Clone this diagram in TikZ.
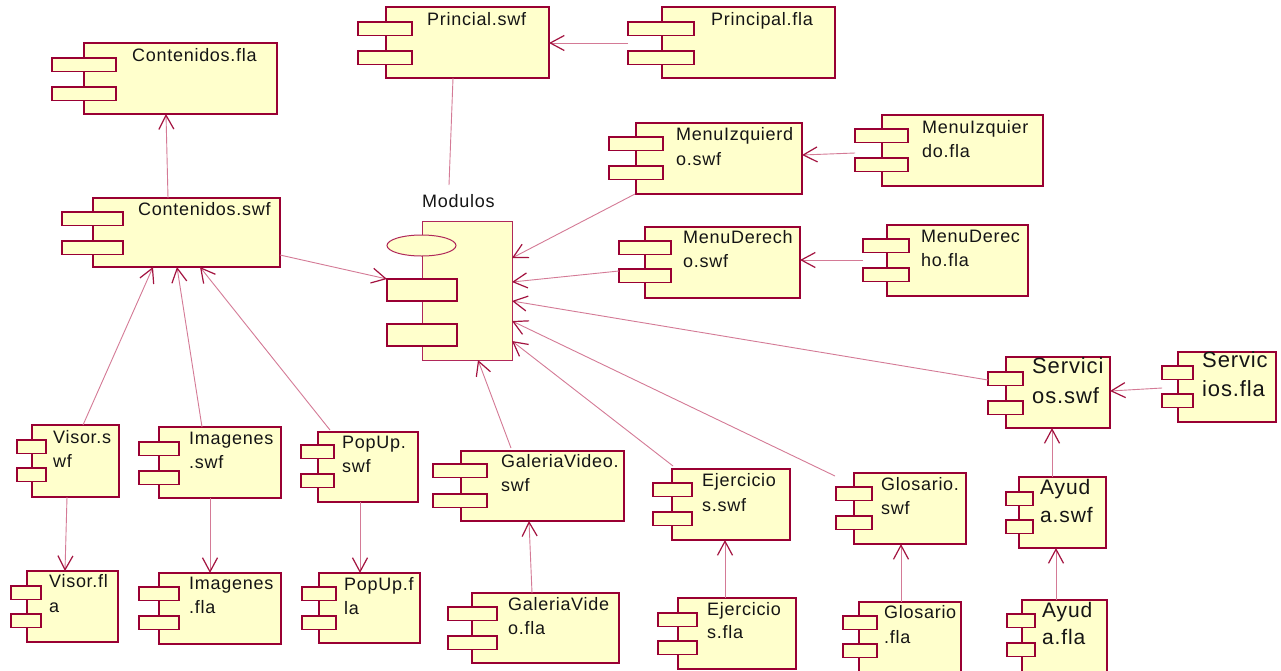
\documentclass[tikz,border=0pt]{standalone}
\usepackage{fontspec}
\setmainfont{Liberation Sans}
\newfontfamily\lblfont[LetterSpace=4]{Liberation Sans}
\usetikzlibrary{arrows.meta,shapes.geometric}
\definecolor{compfill}{HTML}{FFFFCC}
\definecolor{compedge}{HTML}{990033}
\definecolor{modedge}{HTML}{B0285A}
\definecolor{deplink}{HTML}{D47A96}
\definecolor{deptip}{HTML}{A3123F}
\definecolor{ink}{HTML}{151515}
\tikzset{
  compbody/.style={draw=compedge, fill=compfill, line width=1.4pt, inner sep=0pt, outer sep=0pt, anchor=north west},
  lbl/.style={inner sep=0pt, anchor=base west, text=ink, font=\lblfont\fontsize{18}{22}\selectfont},
  biglbl/.style={lbl, font=\lblfont\fontsize{22}{26}\selectfont},
  midlbl/.style={lbl, font=\lblfont\fontsize{21}{25}\selectfont},
  dep/.style={draw=deplink, line width=0.9pt, -{Straight Barb[length=14pt, width=15pt, color=deptip, line width=1.2pt]}},
  plainlink/.style={draw=deplink, line width=0.9pt},
}
% component icon: name, body x1 y1 x2 y2, port x1 x2, port tops y1 y2
\newcommand\umlcomp[9]{%
  \node[compbody, minimum width={(#4)-(#2)}, minimum height={(#5)-(#3)}] (#1) at (#2,#3) {};
  \node[compbody, minimum width={(#7)-(#6)}, minimum height=13.5] (#1-a) at (#6,#8) {};
  \node[compbody, minimum width={(#7)-(#6)}, minimum height=13.5] (#1-b) at (#6,#9) {};
}
\begin{document}
\begin{tikzpicture}[x=1pt, y=-1pt]
\useasboundingbox (0,0) rectangle (1281,670);
\clip (0,0) rectangle (1281,670);
\fill[white] (0,0) rectangle (1281,670);

% top row
\umlcomp{prinswf}{386}{7}{549}{78}{358}{412}{22}{51}
\node[lbl] (prinswf-l1) at (427,25) {Princial.swf};
\umlcomp{prinfla}{662}{7}{835}{78}{628}{694}{22}{51}
\node[lbl] (prinfla-l1) at (711,25) {Principal.fla};
\umlcomp{contfla}{84}{43}{277}{114}{52}{116}{58}{87}
\node[lbl] (contfla-l1) at (132,61) {Contenidos.fla};
\umlcomp{contswf}{93}{198}{280}{267}{62}{123}{212}{241}
\node[lbl] (contswf-l1) at (138,215) {Contenidos.swf};

% central package of modules
\node[compbody, draw=modedge, line width=1pt, minimum width=90, minimum height=139] (mod) at (422,221) {};
\node[compbody, draw=modedge, line width=1pt, ellipse, anchor=center, minimum width=69, minimum height=21] (mod-e) at (421.5,245.5) {};
\node[compbody, line width=1.1pt, minimum width=70, minimum height=22] (mod-a) at (387,279) {};
\node[compbody, line width=1.1pt, minimum width=70, minimum height=22] (mod-b) at (387,324) {};
\node[lbl] (mod-l) at (422,207) {Modulos};

% menus
\umlcomp{mizqswf}{636}{123}{802}{194}{609}{663}{137}{166}
\node[lbl] (mizqswf-l1) at (676,140) {MenuIzquierd};
\node[lbl] (mizqswf-l2) at (676,165) {o.swf};
\umlcomp{mizqfla}{882}{115}{1043}{186}{855}{908}{129}{158}
\node[lbl] (mizqfla-l1) at (922,133) {MenuIzquier};
\node[lbl] (mizqfla-l2) at (922,157) {do.fla};
\umlcomp{mderswf}{645}{227}{800}{298}{619}{671}{241}{269}
\node[lbl] (mderswf-l1) at (683,243) {MenuDerech};
\node[lbl] (mderswf-l2) at (683,267) {o.swf};
\umlcomp{mderfla}{887}{225}{1028}{296}{863}{909}{239}{268}
\node[lbl] (mderfla-l1) at (921,242) {MenuDerec};
\node[lbl] (mderfla-l2) at (921,266) {ho.fla};

% services and help
\umlcomp{servswf}{1006}{357}{1110}{428}{988}{1023}{372}{401}
\node[biglbl] (servswf-l1) at (1032,373) {Servici};
\node[biglbl] (servswf-l2) at (1032,403) {os.swf};
\umlcomp{servfla}{1178}{352}{1276}{422}{1162}{1193}{366}{394}
\node[biglbl] (servfla-l1) at (1202,367) {Servic};
\node[biglbl] (servfla-l2) at (1202,396) {ios.fla};
\umlcomp{ayudswf}{1019}{477}{1106}{548}{1006}{1033}{492}{520}
\node[midlbl] (ayudswf-l1) at (1040,494) {Ayud};
\node[midlbl] (ayudswf-l2) at (1040,522) {a.swf};
\umlcomp{ayudfla}{1022}{600}{1107}{680}{1007}{1035}{614}{643}
\node[midlbl] (ayudfla-l1) at (1042,617) {Ayud};
\node[midlbl] (ayudfla-l2) at (1042,644) {a.fla};

% exercises and glossary
\umlcomp{ejerswf}{672}{469}{790}{540}{653}{692}{483}{512}
\node[lbl] (ejerswf-l1) at (702,486) {Ejercicio};
\node[lbl] (ejerswf-l2) at (702,511) {s.swf};
\umlcomp{ejerfla}{678}{598}{796}{669}{658}{697}{613}{641}
\node[lbl] (ejerfla-l1) at (707,615) {Ejercicio};
\node[lbl] (ejerfla-l2) at (707,638) {s.fla};
\umlcomp{glosswf}{854}{473}{966}{544}{836}{872}{487}{516}
\node[lbl] (glosswf-l1) at (881,490) {Glosario.};
\node[lbl] (glosswf-l2) at (881,514) {swf};
\umlcomp{glosfla}{859}{602}{961}{680}{843}{877}{616}{644}
\node[lbl] (glosfla-l1) at (884,618) {Glosario};
\node[lbl] (glosfla-l2) at (884,643) {.fla};

% popup and video gallery
\umlcomp{popswf}{318}{432}{418}{502}{301}{334}{445}{474}
\node[lbl] (popswf-l1) at (342,448) {PopUp.};
\node[lbl] (popswf-l2) at (342,472) {swf};
\umlcomp{popfla}{319}{573}{420}{643}{302}{336}{587}{616}
\node[lbl] (popfla-l1) at (344,590) {PopUp.f};
\node[lbl] (popfla-l2) at (344,614) {la};
\umlcomp{galswf}{461}{451}{624}{521}{433}{487}{464}{494}
\node[lbl] (galswf-l1) at (501,467) {GaleriaVideo.};
\node[lbl] (galswf-l2) at (501,491) {swf};
\umlcomp{galfla}{472}{593}{619}{663}{448}{497}{607}{636}
\node[lbl] (galfla-l1) at (508,610) {GaleriaVide};
\node[lbl] (galfla-l2) at (508,634) {o.fla};

% viewer and images
\umlcomp{visswf}{32}{425}{119}{497}{17}{46}{440}{468}
\node[lbl] (visswf-l1) at (53,443) {Visor.s};
\node[lbl] (visswf-l2) at (53,467) {wf};
\umlcomp{visfla}{27}{571}{118}{642}{11}{41}{586}{614}
\node[lbl] (visfla-l1) at (49,587) {Visor.fl};
\node[lbl] (visfla-l2) at (49,612) {a};
\umlcomp{imgswf}{159}{427}{281}{498}{139}{179}{442}{471}
\node[lbl] (imgswf-l1) at (189,444) {Imagenes};
\node[lbl] (imgswf-l2) at (189,468) {.swf};
\umlcomp{imgfla}{159}{573}{281}{644}{139}{179}{587}{616}
\node[lbl] (imgfla-l1) at (189,589) {Imagenes};
\node[lbl] (imgfla-l2) at (189,613) {.fla};

% connector end points
\coordinate (prinfla-w) at (628,43);   \coordinate (prinswf-e) at (549,43);
\coordinate (prinswf-s) at (453,78);   \coordinate (mod-top) at (449,185);
\coordinate (contswf-n) at (168,198);  \coordinate (contfla-s) at (166,114);
\coordinate (contswf-e) at (280,255);  \coordinate (mod-aw) at (387,279);
\coordinate (visswf-n) at (83,425);    \coordinate (contswf-s1) at (153,267);
\coordinate (imgswf-n) at (202,427);   \coordinate (contswf-s2) at (177,267);
\coordinate (popswf-n) at (330,430);   \coordinate (contswf-s3) at (200,267);
\coordinate (visswf-s) at (67,497);    \coordinate (visfla-n) at (65,571);
\coordinate (imgswf-s) at (210,498);   \coordinate (imgfla-n) at (210,573);
\coordinate (popswf-s) at (360,502);   \coordinate (popfla-n) at (360,573);
\coordinate (mizqswf-sw) at (635,194); \coordinate (mod-e1) at (512,258);
\coordinate (mderswf-w) at (619,271);  \coordinate (mod-e2) at (512,282);
\coordinate (servswf-w) at (988,380);  \coordinate (mod-e3) at (512,301);
\coordinate (glosswf-nw) at (835,476); \coordinate (mod-e4) at (512,321);
\coordinate (ejerswf-nw) at (673,466); \coordinate (mod-e5) at (512,341);
\coordinate (galswf-n) at (511,448);   \coordinate (mod-s) at (478,360);
\coordinate (galfla-n) at (532,593);   \coordinate (galswf-s) at (529,521);
\coordinate (ejerfla-n) at (725,598);  \coordinate (ejerswf-s) at (725,540);
\coordinate (glosfla-n) at (901,602);  \coordinate (glosswf-s) at (901,544);
\coordinate (mizqfla-w) at (855,153);  \coordinate (mizqswf-e) at (802,155);
\coordinate (mderfla-w) at (863,260);  \coordinate (mderswf-e) at (800,260);
\coordinate (servfla-w) at (1162,388); \coordinate (servswf-e) at (1110,391);
\coordinate (ayudfla-n) at (1056,600); \coordinate (ayudswf-s) at (1056,548);
\coordinate (ayudswf-n) at (1052,477); \coordinate (servswf-s) at (1052,428);

% dependencies
\draw[dep] (prinfla-w) -- (prinswf-e);
\draw[plainlink] (prinswf-s) -- (mod-top);
\draw[dep] (contswf-n) -- (contfla-s);
\draw[dep] (contswf-e) -- (mod-aw);
\draw[dep] (visswf-n) -- (contswf-s1);
\draw[dep] (imgswf-n) -- (contswf-s2);
\draw[dep] (popswf-n) -- (contswf-s3);
\draw[dep] (visswf-s) -- (visfla-n);
\draw[dep] (imgswf-s) -- (imgfla-n);
\draw[dep] (popswf-s) -- (popfla-n);
\draw[dep] (mizqswf-sw) -- (mod-e1);
\draw[dep] (mderswf-w) -- (mod-e2);
\draw[dep] (servswf-w) -- (mod-e3);
\draw[dep] (glosswf-nw) -- (mod-e4);
\draw[dep] (ejerswf-nw) -- (mod-e5);
\draw[dep] (galswf-n) -- (mod-s);
\draw[dep] (galfla-n) -- (galswf-s);
\draw[dep] (ejerfla-n) -- (ejerswf-s);
\draw[dep] (glosfla-n) -- (glosswf-s);
\draw[dep] (mizqfla-w) -- (mizqswf-e);
\draw[dep] (mderfla-w) -- (mderswf-e);
\draw[dep] (servfla-w) -- (servswf-e);
\draw[dep] (ayudfla-n) -- (ayudswf-s);
\draw[dep] (ayudswf-n) -- (servswf-s);
\end{tikzpicture}
\end{document}
